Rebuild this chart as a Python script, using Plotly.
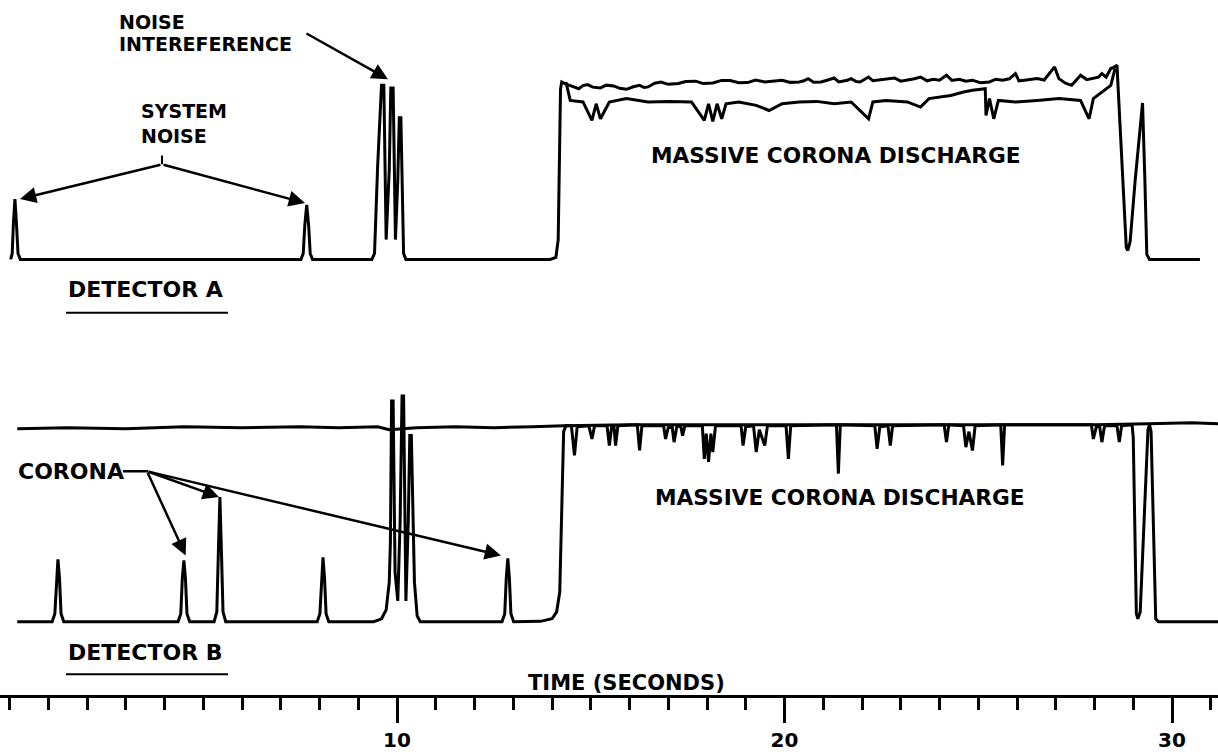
import plotly.graph_objects as go

# ---------------- data (time in seconds, amplitude in arbitrary units) ----------------
# Detector A: main trace (baseline, system-noise peaks, interference, upper plateau)
a_time = [
    0.03, 0.07, 0.10, 0.14, 0.18, 0.22, 0.28,
    7.52, 7.58, 7.62, 7.67, 7.72, 7.76, 7.82,
    9.35, 9.42, 9.50, 9.60, 9.66, 9.72, 9.80, 9.84, 9.90, 9.96, 10.02, 10.06, 10.10, 10.17, 10.23,
    13.95, 14.10, 14.16, 14.22, 14.25,
    14.36, 14.47, 14.58, 14.69, 14.80, 14.92, 15.05, 15.25, 15.40, 15.59, 15.75, 15.92,
    16.10, 16.26, 16.38, 16.48, 16.65, 16.81, 17.00, 17.26, 17.45, 17.71, 17.90, 18.15,
    18.38, 18.60, 18.82, 19.05, 19.25, 19.49, 19.70, 19.94, 20.15, 20.38, 20.50, 20.61,
    20.75, 20.94, 21.10, 21.28, 21.40, 21.50, 21.62, 21.72, 21.85, 21.95, 22.08, 22.17,
    22.28, 22.39, 22.60, 22.84, 23.00, 23.17, 23.35, 23.51, 23.68, 23.84, 24.00, 24.18,
    24.32, 24.51, 24.68, 24.85, 25.05, 25.29, 25.45, 25.63, 25.80, 25.96, 26.05, 26.19,
    26.35, 26.52, 26.70, 26.86, 26.97, 27.08, 27.25, 27.41, 27.52, 27.64, 27.80, 27.97,
    28.10, 28.19, 28.30, 28.42, 28.50, 28.58,
    28.70, 28.82, 28.86, 28.92, 29.05, 29.24, 29.30, 29.35, 29.42, 30.72,
]
a_signal = [
    0.0, 0.3, 1.8, 3.05, 1.8, 0.3, 0.0,
    0.0, 0.3, 1.7, 2.75, 1.7, 0.3, 0.0,
    0.0, 0.3, 4.7, 8.8, 8.8, 1.0, 4.5, 8.65, 8.65, 1.0, 4.0, 7.15, 7.15, 0.3, 0.0,
    0.0, 0.1, 1.0, 8.6, 8.96,
    8.85, 8.79, 8.70, 8.62, 8.78, 8.83, 8.70, 8.66, 8.80, 8.76, 8.64, 8.59,
    8.72, 8.79, 8.68, 8.71, 8.90, 8.96, 8.84, 8.88, 8.98, 9.00, 8.88, 8.91,
    9.04, 9.03, 8.92, 8.93, 9.06, 8.96, 9.00, 9.05, 8.94, 8.96, 9.02, 9.13,
    8.95, 8.96, 9.05, 9.16, 8.96, 8.99, 9.05, 9.13, 8.98, 8.96, 9.10, 9.21,
    9.02, 9.05, 9.08, 9.16, 9.00, 9.05, 9.12, 9.21, 9.02, 9.10, 9.05, 9.30,
    9.04, 9.10, 9.00, 9.05, 8.92, 8.96, 9.10, 9.05, 9.12, 9.38, 9.02, 9.05,
    9.10, 9.13, 9.06, 9.47, 9.72, 9.13, 8.90, 8.79, 9.05, 9.30, 9.08, 9.13,
    9.20, 9.38, 9.20, 9.64, 9.70, 9.81,
    5.0, 0.6, 0.45, 0.9, 4.0, 7.9, 4.0, 0.25, 0.0, 0.0,
]

# Detector A: lower trace of the massive corona discharge plateau
a_lower_time = [
    14.36, 14.47, 14.80, 15.03, 15.14, 15.25, 15.48, 15.92, 16.48, 17.04, 17.60, 17.93,
    18.04, 18.15, 18.26, 18.38, 18.49, 18.82, 19.27, 19.60, 19.94, 20.38, 20.83, 21.28,
    21.72, 22.17, 22.28, 22.62, 23.17, 23.51, 23.73, 24.29, 24.62, 24.85, 25.18, 25.20,
    25.29, 25.40, 25.52, 25.96, 26.52, 27.08, 27.64, 27.86, 27.97, 28.19, 28.42, 28.53,
]
a_lower_signal = [
    8.96, 8.03, 7.95, 7.02, 7.86, 7.10, 7.95, 8.12, 7.95, 7.98, 7.95, 7.02,
    7.86, 6.97, 7.86, 7.10, 7.86, 7.95, 7.78, 7.52, 7.86, 7.95, 7.98, 7.86,
    7.95, 7.10, 7.95, 8.03, 7.95, 7.69, 8.12, 8.28, 8.45, 8.54, 8.62, 7.27,
    8.12, 7.10, 8.03, 7.95, 8.03, 8.12, 8.03, 7.10, 8.12, 8.45, 8.79, 9.64,
]

# Detector B: signal trace
b_time = [
    0.20,
    1.10, 1.17, 1.21, 1.25, 1.29, 1.33, 1.40,
    4.35, 4.42, 4.46, 4.50, 4.54, 4.58, 4.65,
    5.28, 5.35, 5.39, 5.43, 5.47, 5.51, 5.58,
    7.94, 8.01, 8.05, 8.09, 8.13, 8.17, 8.24,
    9.40, 9.60, 9.72, 9.80, 9.83, 9.86, 9.90, 9.95, 10.02, 10.08, 10.13, 10.17, 10.23,
    10.29, 10.33, 10.37, 10.45, 10.52, 10.60,
    12.71, 12.78, 12.82, 12.86, 12.90, 12.94, 13.01,
    13.70, 14.00, 14.12, 14.20, 14.30, 14.36,
    14.50, 14.58, 14.65, 14.95, 15.03, 15.10, 15.42, 15.48, 15.54, 15.60, 15.64, 15.70,
    16.20, 16.26, 16.32, 16.88, 16.93, 17.00, 17.10, 17.15, 17.22, 17.32, 17.37, 17.43,
    17.88, 17.93, 17.98, 18.04, 18.10, 18.15, 18.22, 18.88, 18.93, 19.00, 19.20, 19.27,
    19.35, 19.49, 19.56, 20.04, 20.10, 20.16, 21.34, 21.39, 21.44, 22.33, 22.39, 22.46,
    22.67, 22.73, 22.79, 24.12, 24.18, 24.24, 24.62, 24.68, 24.76, 24.85, 24.92, 25.58,
    25.63, 25.68, 26.50, 27.00, 27.92, 27.97, 28.05, 28.13, 28.19, 28.26, 28.58, 28.64,
    28.70, 28.97,
    29.00, 29.08, 29.12, 29.18, 29.38, 29.42, 29.46, 29.58, 29.65, 31.19,
]
b_signal = [
    0.0,
    0.0, 0.4, 2.2, 3.15, 2.2, 0.4, 0.0,
    0.0, 0.4, 2.2, 3.1, 2.2, 0.4, 0.0,
    0.0, 0.5, 3.5, 6.3, 3.5, 0.5, 0.0,
    0.0, 0.4, 2.2, 3.25, 2.2, 0.4, 0.0,
    0.0, 0.15, 0.6, 2.0, 4.0, 11.15, 11.15, 2.5, 1.05, 5.0, 11.4, 11.4, 1.05,
    5.0, 9.4, 9.4, 2.0, 0.3, 0.0,
    0.0, 0.4, 2.2, 3.2, 2.2, 0.4, 0.0,
    0.02, 0.15, 0.5, 1.5, 9.6, 9.9,
    9.9, 8.4, 9.85, 9.9, 9.23, 9.9, 9.9, 8.9, 9.85, 9.85, 8.9, 9.9,
    9.95, 8.65, 9.9, 9.9, 9.23, 9.8, 9.85, 9.07, 9.85, 9.9, 9.4, 9.9,
    9.9, 8.23, 9.5, 8.07, 9.5, 8.57, 9.9, 9.9, 8.9, 9.85, 9.9, 8.57,
    9.7, 8.9, 9.9, 9.9, 8.23, 9.9, 9.95, 7.48, 9.95, 9.9, 8.73, 9.85,
    9.9, 8.9, 9.9, 9.95, 9.07, 9.95, 9.9, 8.82, 9.6, 8.65, 9.9, 9.95,
    7.9, 9.95, 9.95, 9.95, 9.95, 9.23, 9.85, 9.9, 9.07, 9.9, 9.9, 9.07,
    9.9, 9.95,
    9.3, 0.4, 0.15, 0.5, 9.7, 9.95, 9.6, 0.15, 0.0, 0.0,
]

# Detector B: upper reference line
b_ref_time = [0.20, 1.5, 3.0, 4.5, 6.0, 7.5, 8.5, 9.5, 9.8, 10.5, 11.5, 12.5, 13.5, 14.3,
              16.0, 20.0, 24.0, 28.0, 29.4, 30.5, 31.19]
b_ref_signal = [9.75, 9.8, 9.75, 9.85, 9.8, 9.85, 9.8, 9.85, 9.7, 9.8, 9.85, 9.8, 9.85, 9.9,
                9.95, 9.95, 9.95, 9.95, 10.0, 10.05, 10.0]

tick_values = [10, 20, 30]
tick_labels = ["10", "20", "30"]

# ---------------- layout helpers (pixel -> paper / data) ----------------
W, H = 1218, 752
PLOT_BOTTOM = 703
X0_PX, PX_PER_S = 9.5, 38.75
A_BASE_PX, B_BASE_PX, PX_PER_UNIT = 262.0, 628.0, 20.0


def xp(px):
    return px / W


def yp(py):
    return (PLOT_BOTTOM - py) / PLOT_BOTTOM


def tx(px):
    return (px - X0_PX) / PX_PER_S


def va(py):
    return (A_BASE_PX - py) / PX_PER_UNIT


def vb(py):
    return (B_BASE_PX - py) / PX_PER_UNIT


span = PLOT_BOTTOM / PX_PER_UNIT
a_r0 = -(PLOT_BOTTOM - A_BASE_PX) / PX_PER_UNIT
b_r0 = -(PLOT_BOTTOM - B_BASE_PX) / PX_PER_UNIT

LINE = dict(color="black", width=3)

fig = go.Figure()
fig.add_trace(go.Scatter(x=a_time, y=a_signal, mode="lines", line=LINE, yaxis="y"))
fig.add_trace(go.Scatter(x=a_lower_time, y=a_lower_signal, mode="lines", line=LINE, yaxis="y"))
fig.add_trace(go.Scatter(x=b_ref_time, y=b_ref_signal, mode="lines", line=LINE, yaxis="y2"))
fig.add_trace(go.Scatter(x=b_time, y=b_signal, mode="lines", line=LINE, yaxis="y2"))

FONT = "DejaVu Sans"


def label(text, px, py, size, anchor="left"):
    return dict(text="<b>" + text + "</b>", x=xp(px), y=yp(py), xref="paper", yref="paper",
                xanchor=anchor, yanchor="middle", showarrow=False, align="left",
                font=dict(family=FONT, size=size, color="black"))


def arrow(t_tip, v_tip, t_tail, v_tail, yref):
    return dict(text="", x=t_tip, y=v_tip, ax=t_tail, ay=v_tail, xref="x", yref=yref,
                axref="x", ayref=yref, showarrow=True, arrowhead=2, arrowsize=1.3,
                arrowwidth=2.5, arrowcolor="black", standoff=0)


JUNCTION_B = (147, 476)

annotations = [
    label("NOISE", 117, 22, 19),
    label("INTEREFERENCE", 117, 44, 19),
    label("SYSTEM<br><b>NOISE</b>", 139, 125, 19),
    label("DETECTOR A", 66, 292, 22),
    label("MASSIVE CORONA DISCHARGE", 836, 157, 21.7, "center"),
    label("CORONA", 16, 476, 22),
    label("MASSIVE CORONA DISCHARGE", 840, 502, 21.7, "center"),
    label("DETECTOR B", 66, 659, 22),
    label("TIME (SECONDS)", 626, 690, 21, "center"),
    # arrows
    arrow(tx(388), va(80), tx(305), va(33), "y"),
    arrow(tx(20), va(201), tx(162), va(166), "y"),
    arrow(tx(305), va(205), tx(162), va(166), "y"),
    arrow(tx(185.6), vb(561), tx(JUNCTION_B[0]), vb(JUNCTION_B[1]), "y2"),
    arrow(tx(219), vb(502), tx(JUNCTION_B[0]), vb(JUNCTION_B[1]), "y2"),
    arrow(tx(501), vb(561), tx(JUNCTION_B[0]), vb(JUNCTION_B[1]), "y2"),
]

shapes = [
    # underlines
    dict(type="line", xref="paper", yref="paper", x0=xp(66), x1=xp(228), y0=yp(316), y1=yp(316),
         line=dict(color="black", width=2)),
    dict(type="line", xref="paper", yref="paper", x0=xp(66), x1=xp(228), y0=yp(681), y1=yp(681),
         line=dict(color="black", width=2)),
    # dash from CORONA label to the arrow junction
    dict(type="line", xref="paper", yref="paper", x0=xp(123), x1=xp(JUNCTION_B[0] + 1),
         y0=yp(JUNCTION_B[1]), y1=yp(JUNCTION_B[1]), line=dict(color="black", width=2.5)),
    # small tick above the SYSTEM NOISE junction
    dict(type="line", xref="paper", yref="paper", x0=xp(162), x1=xp(162), y0=yp(166), y1=yp(157),
         line=dict(color="black", width=2)),
]

fig.update_layout(
    width=W, height=H,
    margin=dict(l=0, r=0, t=0, b=H - PLOT_BOTTOM),
    paper_bgcolor="white", plot_bgcolor="white",
    showlegend=False, hovermode=False,
    xaxis=dict(
        range=[tx(0), tx(W)], anchor="free", position=0,
        showline=True, linewidth=3, linecolor="black",
        ticks="outside", ticklen=25, tickwidth=3, tickcolor="black",
        tickmode="array", tickvals=tick_values, ticktext=tick_labels,
        tickfont=dict(family=FONT, size=20, color="black", weight="bold"),
        minor=dict(ticks="outside", ticklen=12, tickwidth=3, tickcolor="black",
                   dtick=1, tick0=0, showgrid=False),
        showgrid=False, zeroline=False, fixedrange=True,
    ),
    yaxis=dict(range=[a_r0, a_r0 + span], visible=False, domain=[0, 1], fixedrange=True),
    yaxis2=dict(range=[b_r0, b_r0 + span], visible=False, overlaying="y", fixedrange=True),
    annotations=annotations,
    shapes=shapes,
)

fig.write_html(
    "out.html",
    config={"displayModeBar": False},
    post_script="document.body.style.margin='0';document.body.style.padding='0';",
)
